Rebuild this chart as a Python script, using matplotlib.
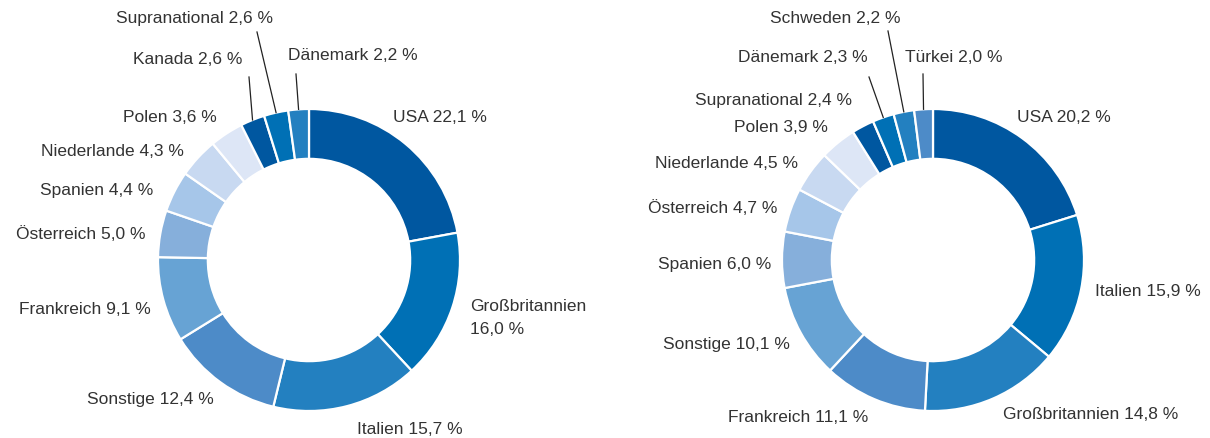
import numpy as np
import matplotlib.pyplot as plt

W, H = 1210, 439

# left chart data
left_labels = ['USA', 'Großbritannien', 'Italien', 'Sonstige', 'Frankreich', 'Österreich',
               'Spanien', 'Niederlande', 'Polen', 'Kanada', 'Supranational', 'Dänemark']
left_values = [22.1, 16.0, 15.7, 12.4, 9.1, 5.0, 4.4, 4.3, 3.6, 2.6, 2.6, 2.2]

# right chart data
right_labels = ['USA', 'Italien', 'Großbritannien', 'Frankreich', 'Sonstige', 'Spanien',
                'Österreich', 'Niederlande', 'Polen', 'Supranational', 'Dänemark', 'Schweden', 'Türkei']
right_values = [20.2, 15.9, 14.8, 11.1, 10.1, 6.0, 4.7, 4.5, 3.9, 2.4, 2.3, 2.2, 2.0]

palette = ['#0057a0', '#0070b5', '#2380c0', '#4d8bc8', '#67a3d4', '#86afdb',
           '#a6c6e9', '#c8d9f1', '#dde6f6']

# layout: label anchor (x, y in pixels from top), alignment, leader line flag
left_layout = [
    (393, 118, 'left', False), (470, 318, 'left', False), (357, 430, 'left', False),
    (214, 400, 'right', False), (151, 309, 'right', False), (146, 234, 'right', False),
    (153, 191, 'right', False), (184, 151, 'right', False), (217, 117, 'right', False),
    (242, 60, 'right', (249, 78)), (116, 18, 'left', (257, 33)), (288, 55, 'left', (296, 75)),
]
right_layout = [
    (1017, 118, 'left', False), (1095, 291, 'left', False), (1003, 415, 'left', False),
    (868, 418, 'right', False), (790, 345, 'right', False), (771, 265, 'right', False),
    (777, 208, 'right', False), (798, 164, 'right', False), (828, 128, 'right', False),
    (852, 100, 'right', False), (868, 58, 'right', (869, 78)), (770, 18, 'left', (888, 32)),
    (905, 57, 'left', (923, 75)),
]

plt.rcParams['font.family'] = ['Liberation Sans', 'DejaVu Sans']
fig = plt.figure(figsize=(W / 100, H / 100), dpi=100)
ax = fig.add_axes([0, 0, 1, 1])
ax.set_xlim(0, W)
ax.set_ylim(0, H)
ax.set_aspect('equal')
ax.axis('off')

R = 151
ring = 0.33
text_color = '#333333'


def fmt(v):
    return f'{v:.1f}'.replace('.', ',') + ' %'


def donut(cx, cy, labels, values, layout):
    colors = [palette[i % len(palette)] for i in range(len(values))]
    ax.pie(values, center=(cx, H - cy), radius=R, startangle=90, counterclock=False,
           colors=colors, wedgeprops=dict(width=R * ring, edgecolor='white', linewidth=1.6),
           frame=True)
    total = sum(values)
    cum = np.cumsum([0] + values)
    for i, (lab, v) in enumerate(zip(labels, values)):
        tx, ty, ha, leader = layout[i]
        if lab == 'Großbritannien' and ha == 'left' and ty < 400:
            txt = f'{lab}\n{fmt(v)}'
        else:
            txt = f'{lab} {fmt(v)}'
        ax.text(tx, H - ty, txt, ha=ha, va='center', fontsize=12.5, color=text_color,
                linespacing=1.6)
        if leader:
            mid = (cum[i] + v / 2) / total * 2 * np.pi
            ex = cx + R * np.sin(mid)
            ey = H - cy + R * np.cos(mid)
            ax.plot([leader[0], ex], [H - leader[1], ey], color='#222222', lw=0.9)


donut(309, 261, left_labels, left_values, left_layout)
donut(933, 261, right_labels, right_values, right_layout)

ax.set_xlim(0, W)
ax.set_ylim(0, H)
ax.axis('off')
fig.savefig('out.png', dpi=100)
